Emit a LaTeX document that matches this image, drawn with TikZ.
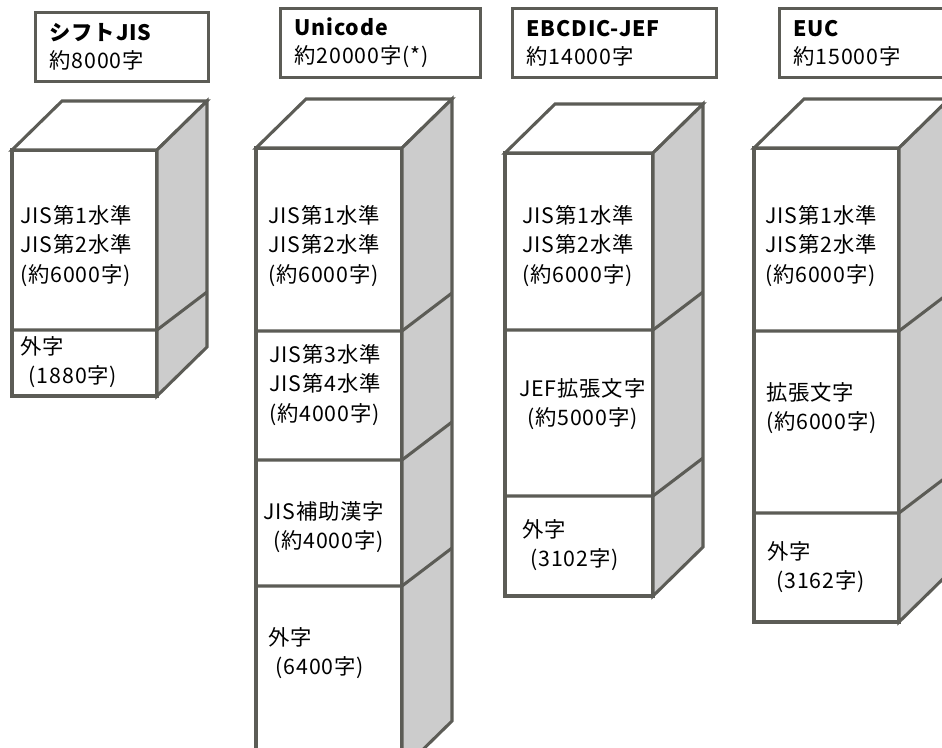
\documentclass[tikz,border=0pt]{standalone}
\usepackage{fontspec}
\setmainfont{Noto Sans CJK JP}[LetterSpace=4]
\definecolor{lc}{RGB}{92,92,86}
\definecolor{sidegray}{RGB}{204,204,204}
\newcommand{\mkcube}[5]{%
  \filldraw[cubeline, fill=white] (#1,#3) rectangle (#2,#4);
  \filldraw[cubeline, fill=white] (#1,#3) -- (#1+50,#3-49) -- (#2+50,#3-49) -- (#2,#3) -- cycle;
  \filldraw[cubeline, fill=sidegray] (#2,#3) -- (#2+50,#3-49) -- (#2+50,#4-49) -- (#2,#4) -- cycle;
  \foreach \d in {#5} {\draw[cubeline] (#1,\d) -- (#2,\d) -- (#2+50,\d-38);}%
}
\begin{document}
\begin{tikzpicture}[x=0.75pt, y=-0.75pt,
  cubeline/.style={draw=lc, line width=2.3pt, line join=miter},
  lbox/.style={draw=lc, line width=2.3pt, fill=white, anchor=north west, align=left,
    inner xsep=10.5pt, inner ysep=0pt, minimum height=51.5pt,
    font=\fontsize{16pt}{21pt}\selectfont},
  sec/.style={anchor=west, align=left, inner sep=0pt,
    font=\fontsize{16pt}{22pt}\selectfont}
]
\useasboundingbox (0,0) rectangle (942,747);
\clip (0,0) rectangle (942,747);

% label boxes
\node[lbox, text width=108.75pt] (lsjis) at (34,11) {\textbf{シフトJIS}\\約8000字};
\node[lbox, text width=129pt] (luni) at (279,7) {\textbf{Unicode}\\約20000字(*)};
\node[lbox, text width=132pt] (lebc) at (511,7) {\textbf{EBCDIC-JEF}\\約14000字};
\node[lbox, text width=129pt] (leuc) at (778,7) {\textbf{EUC}\\約15000字};

% cubes
\mkcube{12}{157}{150}{396}{330}
\mkcube{256}{402}{148}{770}{331,460,586}
\mkcube{505}{653}{153}{596}{330,496}
\mkcube{754}{899}{148}{622}{331,513}

% Shift JIS
\node[sec] (s1a) at (20,246) {JIS第1水準\\JIS第2水準\\(約6000字)};
\node[sec] (s1b) at (20,362) {外字\\\hspace*{6.5pt}(1880字)};
% Unicode
\node[sec] (s2a) at (268,246) {JIS第1水準\\JIS第2水準\\(約6000字)};
\node[sec] (s2b) at (269,385) {JIS第3水準\\JIS第4水準\\(約4000字)};
\node[sec] (s2c) at (263,527) {JIS補助漢字\\\hspace*{7.5pt}(約4000字)};
\node[sec] (s2d) at (268,653) {外字\\\hspace*{5.5pt}(6400字)};
% EBCDIC-JEF
\node[sec] (s3a) at (522,246) {JIS第1水準\\JIS第2水準\\(約6000字)};
\node[sec] (s3b) at (519,404) {JEF拡張文字\\\hspace*{6pt}(約5000字)};
\node[sec] (s3c) at (522,545) {外字\\\hspace*{6pt}(3102字)};
% EUC
\node[sec] (s4a) at (765,246) {JIS第1水準\\JIS第2水準\\(約6000字)};
\node[sec] (s4b) at (766,408) {拡張文字\\(約6000字)};
\node[sec] (s4c) at (767,567) {外字\\\hspace*{6.75pt}(3162字)};
\end{tikzpicture}
\end{document}
